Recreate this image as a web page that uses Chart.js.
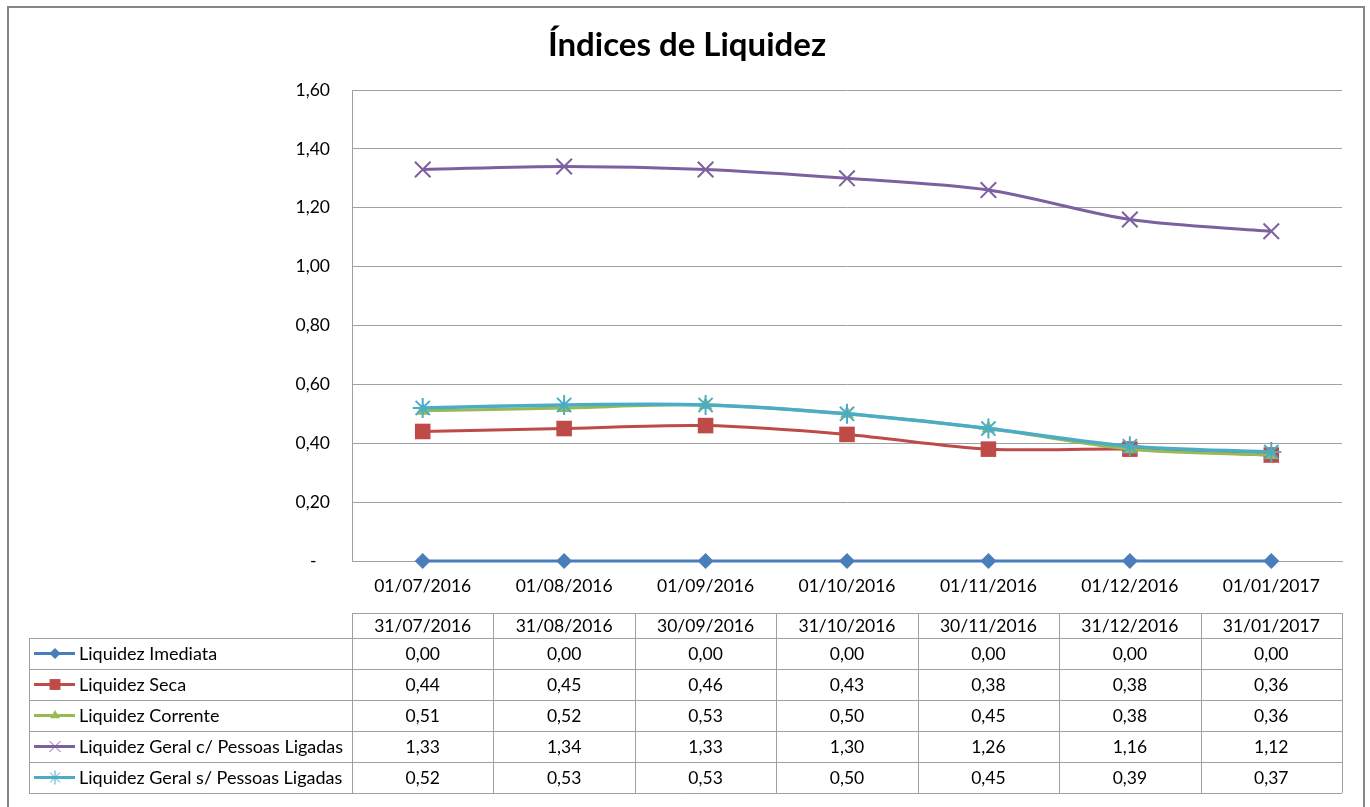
<!DOCTYPE html>
<html>
<head>
<meta charset="utf-8">
<title>Índices de Liquidez</title>
<script src="https://cdn.jsdelivr.net/npm/chart.js@4.4.1/dist/chart.umd.min.js"></script>
<style>
  html, body { margin: 0; padding: 0; background: #fff; }
  #wrap { width: 1370px; height: 807px; }
</style>
</head>
<body>
<div id="wrap"><canvas id="chart" width="1370" height="807"></canvas></div>
<script>
const chartTitle = 'Índices de Liquidez';
const categories = ['01/07/2016', '01/08/2016', '01/09/2016', '01/10/2016', '01/11/2016', '01/12/2016', '01/01/2017'];
const tableDates = ['31/07/2016', '31/08/2016', '30/09/2016', '31/10/2016', '30/11/2016', '31/12/2016', '31/01/2017'];

const seriesNames = [
  'Liquidez Imediata',
  'Liquidez Seca',
  'Liquidez Corrente',
  'Liquidez Geral c/ Pessoas Ligadas',
  'Liquidez Geral s/ Pessoas Ligadas'
];
const imediata = [0.00, 0.00, 0.00, 0.00, 0.00, 0.00, 0.00];
const seca = [0.44, 0.45, 0.46, 0.43, 0.38, 0.38, 0.36];
const corrente = [0.51, 0.52, 0.53, 0.50, 0.45, 0.38, 0.36];
const geralCom = [1.33, 1.34, 1.33, 1.30, 1.26, 1.16, 1.12];
const geralSem = [0.52, 0.53, 0.53, 0.50, 0.45, 0.39, 0.37];

const yMin = 0;
const yMax = 1.6;
const yStep = 0.2;

const FONT = 'Lato, "Open Sans", sans-serif';
const GRID = '#a0a0a0';
const TXT = 17.5;

// 0.44 -> "0,44"
const fmt = v => v.toFixed(2).replace('.', ',');

const styles = [
  { color: '#4a7ebb', point: 'rectRot', radius: 8, fill: true, width: 3 },
  { color: '#be4b48', point: 'rect', radius: 11, fill: true, width: 3 },
  { color: '#98b954', point: 'triangle', radius: 8, fill: true, width: 3 },
  { color: '#7d60a0', point: 'crossRot', radius: 11, fill: false, width: 3 },
  { color: '#4bacc6', point: 'star', radius: 10, fill: false, width: 3.5 }
];
const allData = [imediata, seca, corrente, geralCom, geralSem];

const datasets = allData.map((d, i) => ({
  label: seriesNames[i],
  data: d,
  borderColor: styles[i].color,
  backgroundColor: styles[i].color,
  borderWidth: styles[i].width,
  pointStyle: styles[i].point,
  pointRadius: styles[i].radius,
  pointHoverRadius: styles[i].radius,
  pointBorderWidth: styles[i].fill ? 0 : 2,
  pointBackgroundColor: styles[i].color,
  pointBorderColor: styles[i].color,
  tension: 0.3,
  clip: false,
  order: allData.length - i // later series on top, like Excel
}));

// frame, title and the data table under the x axis
const excelDecor = {
  id: 'excelDecor',
  beforeDraw(chart) {
    const ctx = chart.ctx;
    ctx.save();
    ctx.fillStyle = '#fff';
    ctx.fillRect(0, 0, chart.width, chart.height);
    ctx.strokeStyle = '#868686';
    ctx.lineWidth = 2;
    ctx.strokeRect(8, 7, 1356, 806);
    ctx.fillStyle = '#000';
    ctx.font = 'bold 33px ' + FONT;
    ctx.textAlign = 'center';
    ctx.textBaseline = 'middle';
    ctx.fillText(chartTitle, 687, 45);
    ctx.restore();
  },
  afterDraw(chart) {
    const ctx = chart.ctx;
    const x = chart.scales.x;
    const step = x.getPixelForValue(1) - x.getPixelForValue(0);
    const left = x.getPixelForValue(0) - step / 2;
    const right = x.getPixelForValue(categories.length - 1) + step / 2;
    const headTop = 613, headH = 25, rowH = 31;
    const bodyTop = headTop + headH;
    const bodyBottom = bodyTop + rowH * seriesNames.length;
    const legendLeft = 29;

    ctx.save();
    ctx.strokeStyle = GRID;
    ctx.lineWidth = 1;
    ctx.beginPath();
    ctx.moveTo(left, headTop + 0.5); ctx.lineTo(right, headTop + 0.5);
    for (let r = 0; r <= seriesNames.length; r++) {
      const yy = Math.round(bodyTop + r * rowH) + 0.5;
      ctx.moveTo(legendLeft, yy); ctx.lineTo(right, yy);
    }
    for (let c = 0; c <= categories.length; c++) {
      const xx = Math.round(left + c * step) + 0.5;
      ctx.moveTo(xx, headTop); ctx.lineTo(xx, bodyBottom);
    }
    ctx.moveTo(legendLeft + 0.5, bodyTop); ctx.lineTo(legendLeft + 0.5, bodyBottom);
    ctx.stroke();

    ctx.fillStyle = '#000';
    ctx.font = TXT + 'px ' + FONT;
    ctx.textAlign = 'center';
    ctx.textBaseline = 'middle';
    tableDates.forEach((d, c) => {
      ctx.fillText(d, left + (c + 0.5) * step, headTop + headH / 2 + 1);
    });

    chart.data.datasets.forEach((ds, r) => {
      const cy = bodyTop + r * rowH + rowH / 2 + 1;
      ctx.font = TXT + 'px ' + FONT;
      ds.data.forEach((v, c) => {
        ctx.fillStyle = '#000';
        ctx.textAlign = 'center';
        ctx.fillText(fmt(v), left + (c + 0.5) * step, cy);
      });
      // legend key
      ctx.strokeStyle = ds.borderColor;
      ctx.lineWidth = 3;
      ctx.beginPath();
      ctx.moveTo(34, cy - 1); ctx.lineTo(75, cy - 1);
      ctx.stroke();
      ctx.fillStyle = ds.borderColor;
      ctx.lineWidth = ds.pointBorderWidth ? 1 : 0.01;
      Chart.helpers.drawPoint(ctx, {
        pointStyle: ds.pointStyle,
        radius: ds.pointRadius * 0.7,
        borderWidth: ds.pointBorderWidth ? 1 : 0
      }, 55, cy - 1);
      ctx.fillStyle = '#000';
      ctx.textAlign = 'left';
      ctx.font = '18px ' + FONT;
      ctx.fillText(ds.label, 79, cy);
    });
    ctx.restore();
  }
};

new Chart(document.getElementById('chart'), {
  type: 'line',
  data: { labels: categories, datasets },
  options: {
    responsive: false,
    devicePixelRatio: 1,
    animation: false,
    events: [],
    layout: { padding: { left: 0, right: 28, top: 90, bottom: 206 } },
    plugins: {
      legend: { display: false },
      title: { display: false },
      tooltip: { enabled: false }
    },
    scales: {
      x: {
        offset: true,
        grid: { display: false, drawTicks: false },
        border: { display: true, color: GRID, width: 1 },
        ticks: { color: '#000', font: { family: FONT, size: TXT }, padding: 15, maxRotation: 0 },
        afterFit(scale) { scale.height = 40; }
      },
      y: {
        min: yMin,
        max: yMax,
        grid: { color: GRID, drawTicks: false },
        border: { display: true, color: GRID, width: 1 },
        ticks: {
          stepSize: yStep,
          color: '#000',
          font: { family: FONT, size: TXT },
          padding: 22,
          callback: v => (v === 0 ? '-   ' : fmt(v))
        },
        afterFit(scale) { scale.width = 352; }
      }
    }
  },
  plugins: [excelDecor]
});
</script>
</body>
</html>
